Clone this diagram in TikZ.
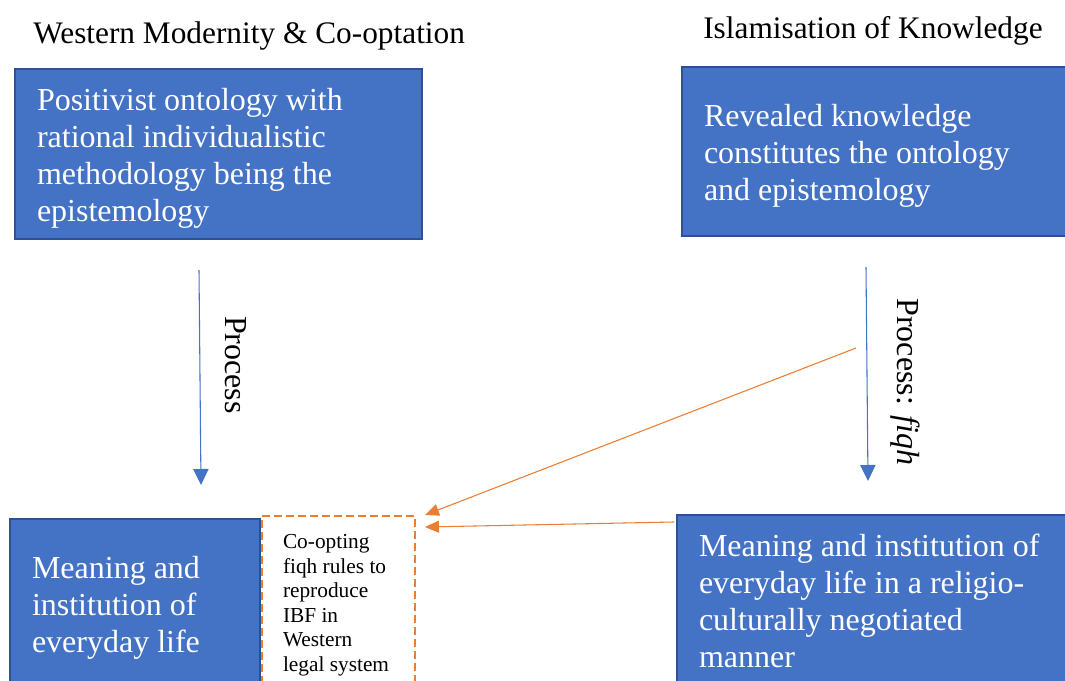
\documentclass[tikz,border=0pt]{standalone}
\usepackage{fontspec}
\setmainfont{Liberation Serif}
\usetikzlibrary{arrows.meta}
\definecolor{boxblue}{HTML}{4472C4}
\definecolor{boxedge}{HTML}{2F528F}
\definecolor{orng}{HTML}{ED7D31}
\newcommand\tstrutbig{\rule{0pt}{24pt}}
\newcommand\bstrutbig{\rule[-5.3pt]{0pt}{5.3pt}}
\newcommand\tstrutsm{\rule{0pt}{17pt}}
\newcommand\bstrutsm{\rule[-3.5pt]{0pt}{3.5pt}}
\tikzset{
  bluebox/.style={draw=boxedge, line width=1.1pt, fill=boxblue, text=white,
    inner xsep=16.5pt, inner ysep=0pt, align=flush left,
    font=\fontsize{24}{27.75}\selectfont},
  dashbox/.style={draw=orng, line width=1.5pt, dash pattern=on 6pt off 3pt, fill=white,
    inner xsep=15.75pt, inner ysep=0pt, align=flush left,
    font=\fontsize{16}{18.4}\selectfont},
  heading/.style={inner sep=0pt, anchor=west, font=\fontsize{23.5}{27}\selectfont},
  proclabel/.style={inner sep=0pt, rotate=-90, font=\fontsize{24}{27}\selectfont},
  bluearrow/.style={draw=boxblue, line width=0.8pt, -{Triangle[length=12pt,width=11.5pt]}},
  orangearrow/.style={draw=orng, line width=0.8pt, -{Triangle[length=10.5pt,width=9pt]}}
}
\begin{document}
\begin{tikzpicture}[x=0.75pt,y=-0.75pt]
\useasboundingbox (0,0) rectangle (1065,681);
% headings
\node[heading] (h1) at (33,36) {Western Modernity \& Co-optation};
\node[heading] (h2) at (703,31) {Islamisation of Knowledge};
% boxes
\node[bluebox, minimum width=305.25pt, minimum height=127.5pt, text width=272.25pt] (tl) at (218.5,154)
  {\tstrutbig Positivist ontology with\\rational individualistic\\methodology being the\\epistemology\bstrutbig};
\node[bluebox, minimum width=289.5pt, minimum height=126.75pt, text width=256.5pt] (tr) at (875,151.5)
  {\tstrutbig Revealed knowledge\\constitutes the ontology\\and epistemology\bstrutbig};
\node[bluebox, minimum width=187.5pt, minimum height=126pt, text width=154.5pt] (bl) at (135,603)
  {\tstrutbig Meaning and\\institution of\\everyday life\bstrutbig};
\node[dashbox, minimum width=114.75pt, minimum height=127.5pt, text width=83.25pt] (db) at (338.5,601)
  {\tstrutsm Co-opting\\fiqh rules to\\reproduce\\IBF in\\Western\\legal system\bstrutsm};
\node[bluebox, minimum width=293.25pt, minimum height=127.5pt, text width=260.25pt] (br) at (872.5,600)
  {\tstrutbig Meaning and institution of\\everyday life in a religio-\\culturally negotiated\\manner\bstrutbig};
% process arrows
\coordinate (la) at (199,270);
\coordinate (lb) at (201,485);
\coordinate (ra) at (866,267);
\coordinate (rb) at (868,481);
\draw[bluearrow] (la) -- (lb);
\draw[bluearrow] (ra) -- (rb);
\node[proclabel] (p1) at (236,365) {Process};
\node[proclabel] (p2) at (905,382) {Process: \textit{fiqh}};
% orange arrows
\coordinate (o1s) at (856,348);
\coordinate (o1e) at (425,515);
\coordinate (o2s) at (674,522);
\coordinate (o2e) at (425,527);
\draw[orangearrow] (o1s) -- (o1e);
\draw[orangearrow] (o2s) -- (o2e);
\end{tikzpicture}
\end{document}
